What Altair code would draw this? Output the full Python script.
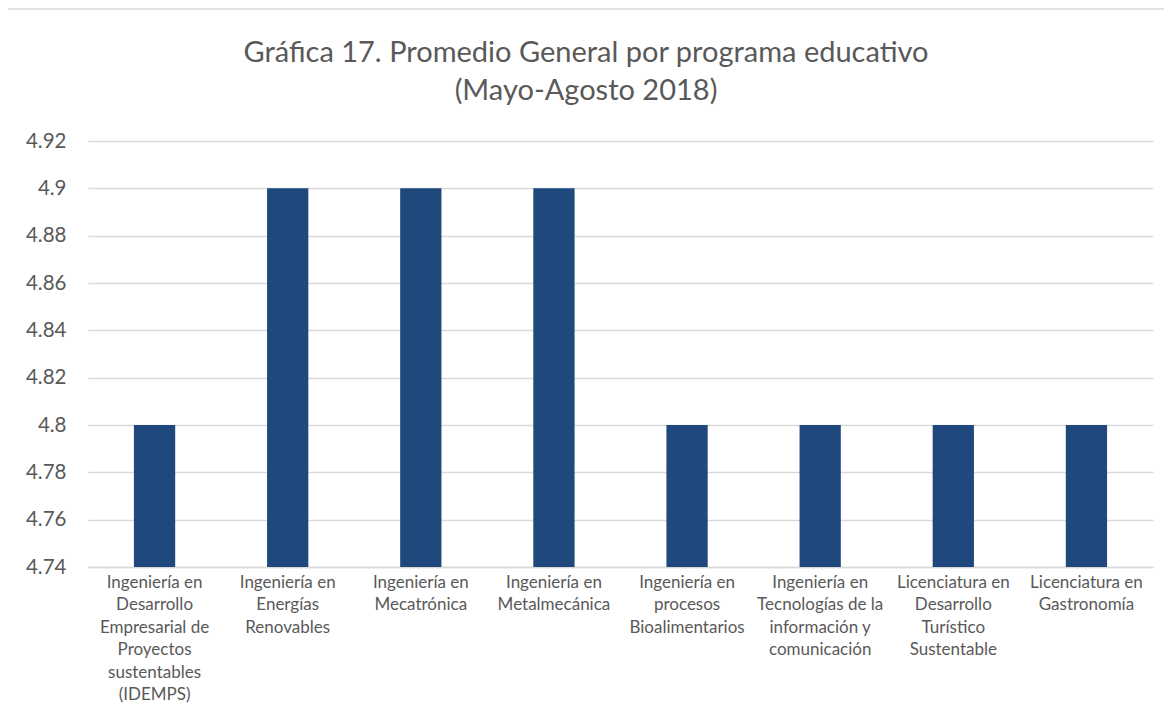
import altair as alt
import pandas as pd

categories = [
    "Ingeniería en\nDesarrollo\nEmpresarial de\nProyectos\nsustentables\n(IDEMPS)",
    "Ingeniería en\nEnergías\nRenovables",
    "Ingeniería en\nMecatrónica",
    "Ingeniería en\nMetalmecánica",
    "Ingeniería en\nprocesos\nBioalimentarios",
    "Ingeniería en\nTecnologías de la\ninformación y\ncomunicación",
    "Licenciatura en\nDesarrollo\nTurístico\nSustentable",
    "Licenciatura en\nGastronomía",
]
values = [4.8, 4.9, 4.9, 4.9, 4.8, 4.8, 4.8, 4.8]
y_ticks = [4.74, 4.76, 4.78, 4.80, 4.82, 4.84, 4.86, 4.88, 4.90, 4.92]
title_lines = ["Gráfica 17. Promedio General por programa educativo", "(Mayo-Agosto 2018)"]

df = pd.DataFrame({"programa": categories, "promedio": values})

FONT = "Lato"
TEXT = "#595959"
GRID = "#D9D9D9"

bars = alt.Chart(df).mark_bar(
    color="#1F497D", width=alt.RelativeBandSize(0.31), clip=True
).encode(
    x=alt.X(
        "programa:N",
        sort=categories,
        title=None,
        scale=alt.Scale(paddingInner=0, paddingOuter=0),
        axis=alt.Axis(
            labelAngle=0,
            labelExpr="split(datum.label, '\\n')",
            labelFont=FONT,
            labelFontSize=17,
            labelColor=TEXT,
            labelLineHeight=22.5,
            labelPadding=7,
            labelLimit=200,
            ticks=False,
            domain=True,
            domainColor=GRID,
            domainWidth=1.5,
            grid=False,
        ),
    ),
    y=alt.Y(
        "promedio:Q",
        title=None,
        scale=alt.Scale(domain=[4.74, 4.92], nice=False, zero=False),
        axis=alt.Axis(
            values=y_ticks,
            format="~g",
            labelFont=FONT,
            labelFontSize=20.5,
            labelColor=TEXT,
            labelPadding=22,
            ticks=False,
            domain=False,
            grid=True,
            gridColor=GRID,
            gridWidth=1.5,
        ),
    ),
)

border = alt.Chart(pd.DataFrame({"a": [0]})).mark_rect(
    fill=None, stroke="#D9D9D9", strokeWidth=1.5
).encode(
    x=alt.value(-83), x2=alt.value(1200), y=alt.value(-132), y2=alt.value(800)
)

title = alt.Chart(pd.DataFrame({"a": [0]})).mark_text(
    font=FONT, fontSize=29, color=TEXT, align="center", baseline="alphabetic",
    lineHeight=38,
).encode(
    x=alt.value(498), y=alt.value(-79), text=alt.value(title_lines)
)

chart = alt.layer(border, bars, title).properties(
    width=1065,
    height=426,
    autosize=alt.AutoSizeParams(type="none"),
    padding={"left": 80, "top": 133, "right": 11, "bottom": 140},
).configure_view(stroke=None)

chart.save("out.html", embed_options={"renderer": "svg", "actions": False})
